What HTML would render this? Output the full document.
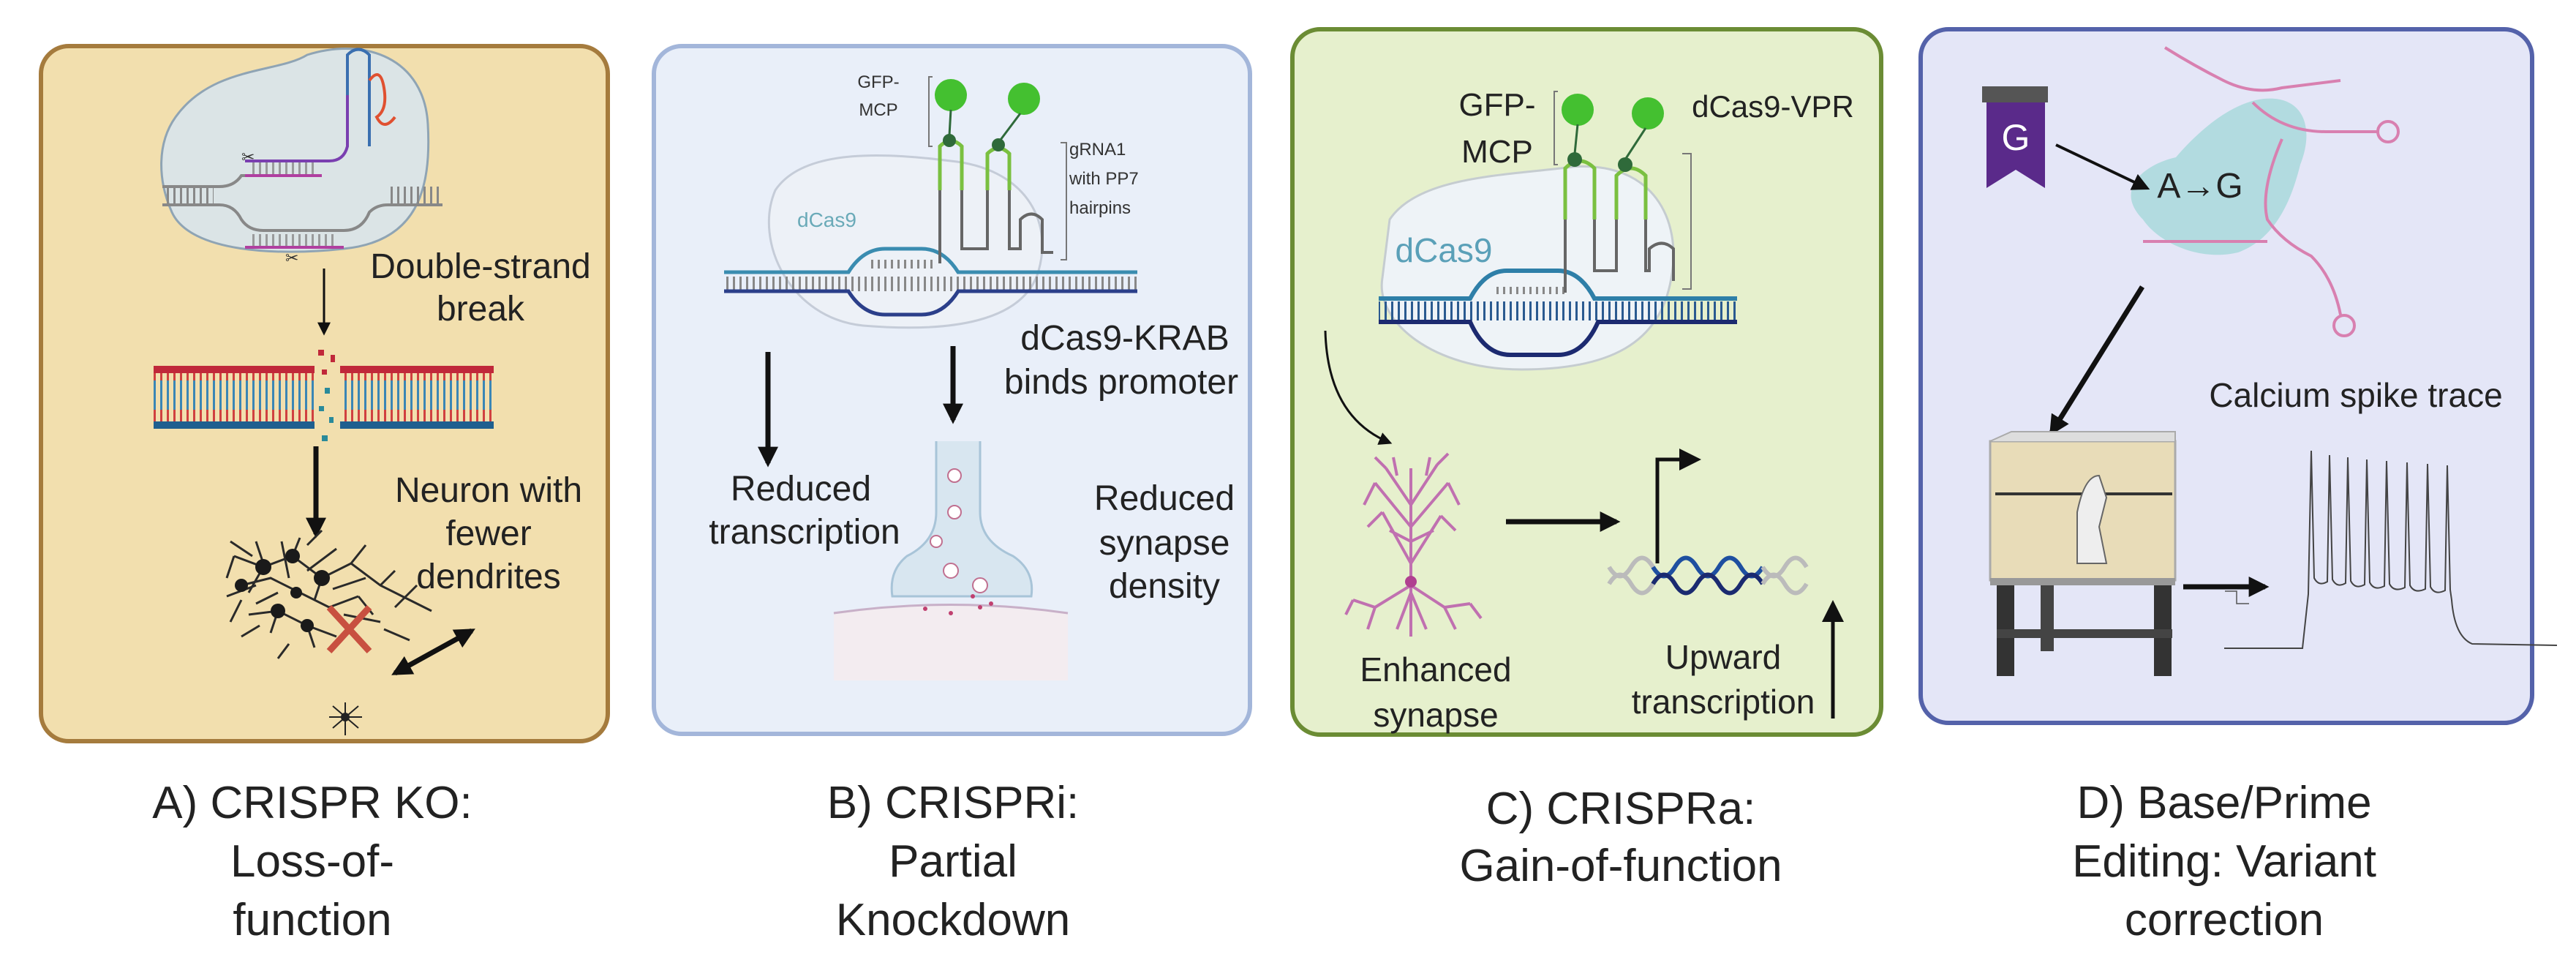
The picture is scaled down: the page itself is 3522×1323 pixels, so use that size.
<!DOCTYPE html>
<html><head><meta charset="utf-8"><style>
html,body{margin:0;padding:0;background:#fff;}
svg{display:block;}
text{font-family:"Liberation Sans",sans-serif;}
</style></head><body>
<svg width="3522" height="1323" viewBox="0 0 3522 1323" xmlns="http://www.w3.org/2000/svg">
<defs>
<marker id="ah" viewBox="0 0 10 10" refX="8" refY="5" markerWidth="4" markerHeight="4" orient="auto-start-reverse"><path d="M0,0 L10,5 L0,10 z" fill="#111"/></marker>
<marker id="ahs" viewBox="0 0 10 10" refX="8" refY="5" markerWidth="6" markerHeight="6" orient="auto"><path d="M0,0 L10,5 L0,10 z" fill="#111"/></marker>
<pattern id="rungs" width="9" height="10" patternUnits="userSpaceOnUse"><rect x="3" width="3" height="10" fill="#888"/></pattern>
<pattern id="rungsRB" width="9" height="80" patternUnits="userSpaceOnUse"><rect x="3" width="3" height="40" fill="#d04040"/><rect x="3" y="40" width="3" height="40" fill="#3a86b5"/></pattern>
<pattern id="rungsB" width="9" height="30" patternUnits="userSpaceOnUse"><rect x="3" width="3" height="30" fill="#2a5a90"/></pattern>
</defs>

<rect x="56" y="63" width="775" height="950" rx="38" fill="#f2dfae" stroke="#a57b3d" stroke-width="6"/>
<rect x="894" y="63" width="815" height="940" rx="38" fill="#e9eff9" stroke="#a3b6da" stroke-width="6"/>
<rect x="1767" y="40" width="805" height="964" rx="38" fill="#e6f0cd" stroke="#6b8c34" stroke-width="6"/>
<rect x="2626" y="40" width="836" height="948" rx="38" fill="#e4e6f7" stroke="#5462aa" stroke-width="6"/>

<!-- Panel A -->
<path d="M240,160 C290,90 380,100 420,75 C500,50 580,80 585,170 C590,260 570,330 470,340 C380,350 260,345 235,290 C215,245 215,195 240,160 Z" fill="#dbe4e6" stroke="#8fa4b4" stroke-width="3"/>
<rect x="222" y="255" width="70" height="25" fill="url(#rungs)"/>
<rect x="530" y="255" width="75" height="25" fill="url(#rungs)"/>
<path d="M222,255 L300,255 Q320,255 330,240 L420,240" stroke="#888" stroke-width="4" fill="none"/>
<path d="M222,280 L300,280 Q320,280 330,300 Q340,315 360,315 L470,315 Q495,315 505,290 Q515,280 530,280 L605,280" stroke="#888" stroke-width="4" fill="none"/>
<rect x="340" y="220" width="95" height="20" fill="url(#rungs)" opacity="0.8"/>
<path d="M335,220 L450,220 Q470,220 475,200 L475,130" stroke="#7a3fb0" stroke-width="4" fill="none"/>
<path d="M335,240 L440,240" stroke="#b03fa0" stroke-width="4"/>
<rect x="340" y="320" width="120" height="18" fill="url(#rungs)" opacity="0.8"/>
<path d="M335,338 L470,338" stroke="#b03fa0" stroke-width="4"/>
<path d="M475,130 L475,75 Q490,60 505,75 L505,200" stroke="#3a6fb0" stroke-width="4" fill="none"/>
<path d="M505,110 Q520,90 525,120 Q530,150 515,160 Q525,180 540,160" stroke="#e05030" stroke-width="4" fill="none"/>
<text x="330" y="222" font-size="22" fill="#333">✂</text>
<text x="390" y="360" font-size="22" fill="#333">✂</text>
<text x="657" y="380" font-size="48" text-anchor="middle" fill="#222">Double-strand</text>
<text x="657" y="438" font-size="48" text-anchor="middle" fill="#222">break</text>
<line x1="443" y1="367" x2="443" y2="455" stroke="#111" stroke-width="3" marker-end="url(#ahs)"/>
<rect x="210" y="505" width="465" height="76" fill="url(#rungsRB)"/>
<rect x="210" y="500" width="220" height="10" fill="#c0283a"/><rect x="465" y="500" width="210" height="10" fill="#c0283a"/>
<rect x="210" y="576" width="220" height="10" fill="#1f5f8f"/><rect x="465" y="576" width="210" height="10" fill="#1f5f8f"/>
<rect x="430" y="495" width="35" height="100" fill="#f2dfae"/>
<g fill="#c0283a"><rect x="435" y="478" width="8" height="8"/><rect x="452" y="485" width="6" height="10"/><rect x="440" y="505" width="7" height="7"/></g>
<g fill="#2a8a9a"><rect x="444" y="530" width="7" height="8"/><rect x="436" y="555" width="7" height="7"/><rect x="450" y="570" width="6" height="8"/><rect x="440" y="595" width="8" height="8"/></g>
<line x1="432" y1="610" x2="432" y2="730" stroke="#111" stroke-width="7" marker-end="url(#ah)"/>
<text x="668" y="686" font-size="48" text-anchor="middle" fill="#222">Neuron with</text>
<text x="668" y="745" font-size="48" text-anchor="middle" fill="#222">fewer</text>
<text x="668" y="804" font-size="48" text-anchor="middle" fill="#222">dendrites</text>
<g stroke="#2a2a2a" stroke-width="3" fill="none">
<path d="M320,760 L360,775 L400,760 L440,790 L480,770 L520,800 L560,820 M330,800 L370,790 L410,810 L450,830 L490,815 M340,840 L380,835 L420,855 L460,870 M360,770 L350,740 M400,760 L410,735 M440,790 L430,820 M380,835 L370,865 M420,855 L430,885 M360,775 L340,810 M480,770 L500,745 M520,800 L540,780 M320,760 L310,790 M560,820 L590,835 M490,815 L510,840"/>
<path d="M315,740 L345,760 M330,820 L315,850 M355,855 L330,870 M395,790 L385,740 M420,780 L460,750 M455,805 L500,790 M470,840 L520,850 M395,880 L380,900 M350,800 L310,815 M420,745 L440,725 M380,810 L350,825 M540,830 L570,800 M525,860 L560,875"/>
</g>
<g fill="#1a1a1a"><circle cx="360" cy="775" r="11"/><circle cx="400" cy="760" r="10"/><circle cx="440" cy="790" r="11"/><circle cx="380" cy="835" r="10"/><circle cx="420" cy="855" r="9"/><circle cx="330" cy="800" r="9"/><circle cx="405" cy="810" r="8"/></g>
<path d="M450,830 L505,890 M505,830 L450,890" stroke="#c85040" stroke-width="9"/>
<line x1="540" y1="920" x2="645" y2="862" stroke="#111" stroke-width="7" marker-end="url(#ah)" marker-start="url(#ah)"/>
<g stroke="#222" stroke-width="2" fill="none"><path d="M472,960 L472,1005 M450,980 L495,980 M455,965 L490,995 M490,965 L455,995"/></g>
<circle cx="472" cy="980" r="6" fill="#222"/>

<!-- Panel B -->
<path d="M1060,260 C1100,200 1220,210 1300,220 C1400,230 1440,300 1420,370 C1400,440 1300,455 1180,445 C1080,435 1030,330 1060,260 Z" fill="#edf1f7" stroke="#c5ccd8" stroke-width="3"/>
<rect x="990" y="378" width="565" height="20" fill="url(#rungs)"/>
<path d="M990,372 L1160,372 Q1180,340 1210,340 L1260,340 Q1290,340 1310,372 L1555,372" stroke="#3a8cb0" stroke-width="5" fill="none"/>
<path d="M990,398 L1160,398 Q1180,430 1210,430 L1260,430 Q1290,430 1310,398 L1555,398" stroke="#2b3f8a" stroke-width="5" fill="none"/>
<rect x="1190" y="355" width="90" height="12" fill="url(#rungs)"/>
<path d="M1285,360 L1285,200 Q1300,185 1315,200 L1315,340 L1350,340 L1350,210 Q1365,195 1380,210 L1380,340 L1395,340 L1395,300 Q1410,285 1425,300 L1425,345 L1440,345" stroke="#666" stroke-width="4" fill="none"/>
<path d="M1285,260 L1285,200 Q1300,185 1315,200 L1315,260 M1350,260 L1350,210 Q1365,195 1380,210 L1380,260" stroke="#7ac040" stroke-width="5" fill="none"/>
<g fill="#44c030"><circle cx="1300" cy="130" r="22"/><circle cx="1400" cy="135" r="22"/></g>
<g fill="#2f6a3a"><circle cx="1298" cy="192" r="9"/><circle cx="1365" cy="198" r="9"/></g>
<path d="M1300,150 L1298,185 M1395,155 L1365,195" stroke="#2f6a3a" stroke-width="3"/>
<path d="M1275,105 L1270,105 L1270,200 L1275,200 M1450,195 L1458,195 L1458,355 L1450,355" stroke="#777" stroke-width="2" fill="none"/>
<text x="1201" y="120" font-size="24" text-anchor="middle" fill="#333">GFP-</text>
<text x="1201" y="158" font-size="24" text-anchor="middle" fill="#333">MCP</text>
<text x="1462" y="212" font-size="24" fill="#333">gRNA1</text>
<text x="1462" y="252" font-size="24" fill="#333">with PP7</text>
<text x="1462" y="292" font-size="24" fill="#333">hairpins</text>
<text x="1090" y="310" font-size="28" fill="#6aaab8">dCas9</text>
<text x="1538" y="478" font-size="48" text-anchor="middle" fill="#222">dCas9-KRAB</text>
<text x="1533" y="538" font-size="48" text-anchor="middle" fill="#222">binds promoter</text>
<line x1="1050" y1="481" x2="1050" y2="633" stroke="#111" stroke-width="7" marker-end="url(#ah)"/>
<line x1="1303" y1="473" x2="1303" y2="574" stroke="#111" stroke-width="7" marker-end="url(#ah)"/>
<text x="1095" y="684" font-size="48" text-anchor="middle" fill="#222">Reduced</text>
<text x="1100" y="743" font-size="48" text-anchor="middle" fill="#222">transcription</text>
<text x="1592" y="697" font-size="48" text-anchor="middle" fill="#222">Reduced</text>
<text x="1592" y="758" font-size="48" text-anchor="middle" fill="#222">synapse</text>
<text x="1592" y="817" font-size="48" text-anchor="middle" fill="#222">density</text>
<rect x="1140" y="838" width="320" height="92" fill="#f3ecf0"/>
<path d="M1140,838 Q1300,815 1460,838" stroke="#c8b0c8" stroke-width="3" fill="#f3ecf0"/>
<path d="M1280,603 L1280,700 Q1280,740 1240,760 Q1215,780 1220,815 L1410,815 Q1415,780 1385,760 Q1340,740 1340,700 L1340,603" fill="#d8e6f0" stroke="#a8c4d8" stroke-width="3"/>
<g fill="#fff" stroke="#c07090" stroke-width="2"><circle cx="1305" cy="650" r="9"/><circle cx="1305" cy="700" r="9"/><circle cx="1280" cy="740" r="8"/><circle cx="1300" cy="780" r="10"/><circle cx="1340" cy="800" r="10"/></g>
<g fill="#c04070"><circle cx="1265" cy="832" r="3"/><circle cx="1300" cy="838" r="3"/><circle cx="1340" cy="830" r="3"/><circle cx="1355" cy="825" r="3"/><circle cx="1330" cy="815" r="3"/></g>

<!-- Panel C -->
<path d="M1900,300 C1940,240 2060,240 2150,228 C2260,220 2300,300 2285,380 C2270,470 2200,505 2080,505 C1960,505 1880,440 1890,380 Z" fill="#eef3f7" stroke="#c5ccd0" stroke-width="3"/>
<rect x="1885" y="412" width="490" height="26" fill="url(#rungsB)"/>
<path d="M1885,408 L2010,408 Q2030,370 2060,370 L2130,370 Q2160,370 2180,408 L2375,408" stroke="#2e7fa8" stroke-width="6" fill="none"/>
<path d="M1885,440 L2010,440 Q2030,485 2065,485 L2130,485 Q2165,485 2185,440 L2375,440" stroke="#1c2a70" stroke-width="6" fill="none"/>
<rect x="2040" y="392" width="100" height="10" fill="url(#rungs)"/>
<path d="M2140,400 L2140,230 Q2160,210 2180,230 L2180,370 L2210,370 L2210,240 Q2230,220 2250,240 L2250,370 L2255,370 L2255,340 Q2272,325 2288,340 L2288,384" stroke="#666" stroke-width="4" fill="none"/>
<path d="M2140,300 L2140,230 Q2160,210 2180,230 L2180,300 M2210,300 L2210,240 Q2230,220 2250,240 L2250,300" stroke="#7ac040" stroke-width="5" fill="none"/>
<g fill="#44c030"><circle cx="2157" cy="150" r="22"/><circle cx="2253" cy="155" r="22"/></g>
<g fill="#2f6a3a"><circle cx="2153" cy="218" r="10"/><circle cx="2222" cy="225" r="10"/></g>
<path d="M2157,170 L2153,210 M2250,175 L2222,218" stroke="#2f6a3a" stroke-width="3"/>
<path d="M2130,125 L2125,125 L2125,225 L2130,225 M2300,210 L2312,210 L2312,395 L2300,395" stroke="#777" stroke-width="2" fill="none"/>
<text x="2047" y="158" font-size="44" text-anchor="middle" fill="#222">GFP-</text>
<text x="2047" y="222" font-size="44" text-anchor="middle" fill="#222">MCP</text>
<text x="2424" y="160" font-size="42" text-anchor="middle" fill="#222">dCas9-VPR</text>
<text x="1974" y="358" font-size="46" text-anchor="middle" fill="#5aa0b8">dCas9</text>
<path d="M1812,452 Q1815,570 1900,605" stroke="#111" stroke-width="3" fill="none" marker-end="url(#ahs)"/>
<g stroke="#c070b0" stroke-width="4" fill="none">
<path d="M1929,870 L1929,640 M1929,720 L1880,660 M1929,720 L1980,660 M1929,690 L1895,640 M1929,690 L1965,635 M1880,660 L1865,690 M1980,660 L1995,690 M1929,770 L1890,700 M1929,770 L1970,705 M1910,650 L1905,625 M1950,650 L1955,625 M1890,700 L1870,720 M1970,705 L1990,725 M1895,640 L1880,625 M1965,635 L1980,620 M1929,740 L1900,725 M1929,740 L1960,725"/>
<path d="M1929,800 L1880,830 L1850,820 M1929,800 L1975,830 L2010,825 M1880,830 L1870,860 M1975,830 L1990,860 M1929,810 L1910,860 M1929,810 L1950,860 M1850,820 L1840,840 M2010,825 L2025,845"/>
</g>
<circle cx="1929" cy="795" r="8" fill="#b04090"/>
<text x="1963" y="931" font-size="46" text-anchor="middle" fill="#222">Enhanced</text>
<text x="1963" y="993" font-size="46" text-anchor="middle" fill="#222">synapse</text>
<line x1="2059" y1="713" x2="2210" y2="713" stroke="#111" stroke-width="7" marker-end="url(#ah)"/>
<path d="M2266,770 L2266,628 L2320,628" stroke="#111" stroke-width="5" fill="none" marker-end="url(#ahs)"/>
<g fill="none" stroke-width="6">
<path d="M2200,775 Q2215,800 2230,775 T2260,775" stroke="#bbb"/>
<path d="M2200,798 Q2215,773 2230,798 T2260,798" stroke="#bbb"/>
<path d="M2260,775 Q2275,800 2290,775 T2320,775 T2350,775 T2380,775 T2410,775" stroke="#1e4fa0"/>
<path d="M2260,798 Q2275,773 2290,798 T2320,798 T2350,798 T2380,798 T2410,798" stroke="#1a2a70"/>
<path d="M2410,775 Q2425,800 2440,775 T2470,775" stroke="#bbb"/>
<path d="M2410,798 Q2425,773 2440,798 T2470,798" stroke="#bbb"/>
</g>
<text x="2356" y="914" font-size="46" text-anchor="middle" fill="#222">Upward</text>
<text x="2356" y="975" font-size="46" text-anchor="middle" fill="#222">transcription</text>
<line x1="2506" y1="982" x2="2506" y2="826" stroke="#111" stroke-width="5" marker-end="url(#ahs)"/>

<!-- Panel D -->
<path d="M2960,65 Q3000,90 3040,110 Q3080,130 3120,120 L3200,110" stroke="#d880b0" stroke-width="4" fill="none"/>
<path d="M2930,300 C2890,260 2930,225 2975,215 C3005,180 3050,140 3095,135 C3150,130 3165,175 3145,225 C3135,265 3115,325 3060,345 C3005,358 2950,330 2930,300 Z" fill="#a9d8dc" opacity="0.85"/>
<path d="M3080,140 Q3120,180 3180,180 L3250,180" stroke="#d880b0" stroke-width="4" fill="none"/>
<circle cx="3265" cy="180" r="14" fill="none" stroke="#d880b0" stroke-width="4"/>
<path d="M3120,190 Q3090,260 3100,300 Q3120,330 3160,350 Q3190,380 3200,430" stroke="#d880b0" stroke-width="4" fill="none"/>
<circle cx="3205" cy="445" r="14" fill="none" stroke="#d880b0" stroke-width="4"/>
<path d="M2930,330 L3100,330" stroke="#d880b0" stroke-width="4"/>
<rect x="2710" y="118" width="90" height="22" fill="#555"/>
<path d="M2716,140 L2796,140 L2796,257 L2756,232 L2716,257 Z" fill="#5a2a8a"/>
<text x="2756" y="205" font-size="50" text-anchor="middle" fill="#fff">G</text>
<line x1="2811" y1="198" x2="2935" y2="257" stroke="#111" stroke-width="4" marker-end="url(#ahs)"/>
<text x="3008" y="270" font-size="48" text-anchor="middle" fill="#222">A→G</text>
<line x1="2929" y1="392" x2="2805" y2="591" stroke="#111" stroke-width="7" marker-end="url(#ah)"/>
<text x="3221" y="556" font-size="46" text-anchor="middle" fill="#222">Calcium spike trace</text>
<rect x="2721" y="603" width="253" height="190" fill="#e8dcb8" stroke="#aaa" stroke-width="3"/>
<path d="M2721,603 L2750,590 L2974,590 L2974,603" fill="#ddd" stroke="#aaa" stroke-width="2"/>
<rect x="2721" y="790" width="253" height="10" fill="#999"/>
<rect x="2730" y="800" width="24" height="124" fill="#333"/>
<rect x="2945" y="800" width="24" height="124" fill="#333"/>
<rect x="2790" y="800" width="18" height="90" fill="#444"/>
<rect x="2730" y="860" width="240" height="12" fill="#444"/>
<line x1="2728" y1="675" x2="2970" y2="675" stroke="#333" stroke-width="4"/>
<path d="M2840,770 L2840,700 Q2850,650 2870,650 L2880,680 L2870,720 L2880,770 Z" fill="#eee" stroke="#666" stroke-width="2"/>
<line x1="2985" y1="802" x2="3097" y2="802" stroke="#111" stroke-width="7" marker-end="url(#ah)"/>
<path d="M3042,808 L3058,808 L3058,825 L3075,825" stroke="#555" stroke-width="1.5" fill="none"/>
<path d="M3041,886 L3148,886 L3156,812 L3160,616 L3164,790 Q3170,802 3182,795 L3185,622 L3189,792 Q3195,804 3207,797 L3210,625 L3214,794 Q3220,806 3233,799 L3236,628 L3240,796 Q3246,808 3260,801 L3263,630 L3267,798 Q3273,810 3288,803 L3291,632 L3295,800 Q3301,812 3316,805 L3319,634 L3323,802 Q3329,814 3343,807 L3346,636 L3350,806 L3352,820 Q3356,870 3380,880 L3496,882" stroke="#444" stroke-width="2" fill="none"/>

<!-- Captions -->
<g font-size="62" fill="#222" text-anchor="middle">
<text x="427" y="1118">A) CRISPR KO:</text>
<text x="427" y="1198">Loss-of-</text>
<text x="427" y="1278">function</text>
<text x="1303" y="1118">B) CRISPRi:</text>
<text x="1303" y="1198">Partial</text>
<text x="1303" y="1278">Knockdown</text>
<text x="2216" y="1126">C) CRISPRa:</text>
<text x="2216" y="1204">Gain-of-function</text>
<text x="3041" y="1118">D) Base/Prime</text>
<text x="3041" y="1198">Editing: Variant</text>
<text x="3041" y="1278">correction</text>
</g>
</svg>
</body></html>
